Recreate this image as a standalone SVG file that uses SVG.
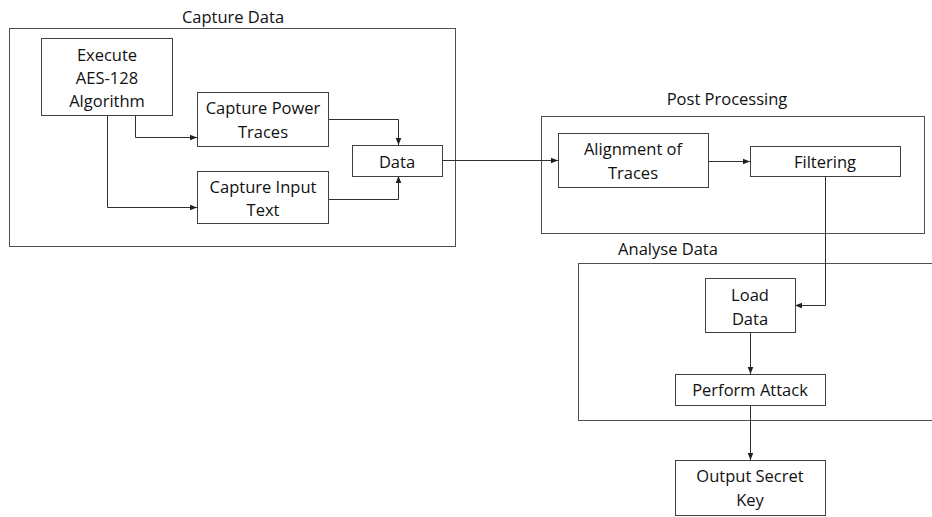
<svg xmlns="http://www.w3.org/2000/svg" width="932" height="517" viewBox="0 0 932 517">
<style>
.grp{fill:none;stroke:#505050;stroke-width:1}
.box{fill:#fff;stroke:#404040;stroke-width:1}
text{font-family:"Open Sans","Liberation Sans",sans-serif;font-size:16.5px;fill:#111;text-anchor:middle;dominant-baseline:central}
.con{fill:none;stroke:#303030;stroke-width:1}
</style>
<defs>
<marker id="ah" viewBox="0 0 10 10" refX="10" refY="5" markerWidth="7" markerHeight="7" orient="auto" markerUnits="userSpaceOnUse">
<path d="M0,1 L10,5 L0,9 z" fill="#202020"/>
</marker>
</defs>
<rect width="932" height="517" fill="#fff"/>
<g id="capture-data">
<rect class="grp" x="9.5" y="28.5" width="446" height="218"/>
<text x="233" y="16">Capture Data</text>
</g>
<g id="post-processing">
<rect class="grp" x="541.5" y="116.5" width="383" height="117"/>
<text x="727" y="98">Post Processing</text>
</g>
<g id="analyse-data">
<rect class="grp" x="578.5" y="263.5" width="360" height="157"/>
<text x="668" y="248">Analyse Data</text>
</g>
<g id="connectors">
<path class="con" d="M135.5,115 V137.5 H197" marker-end="url(#ah)"/>
<path class="con" d="M107.5,115 V207.5 H197" marker-end="url(#ah)"/>
<path class="con" d="M328,119.5 H398.5 V145" marker-end="url(#ah)"/>
<path class="con" d="M328,199.5 H398.5 V176" marker-end="url(#ah)"/>
<path class="con" d="M442,160.5 H558" marker-end="url(#ah)"/>
<path class="con" d="M708,161.5 H750" marker-end="url(#ah)"/>
<path class="con" d="M825.5,177 V305.5 H795" marker-end="url(#ah)"/>
<path class="con" d="M750.5,332 V374" marker-end="url(#ah)"/>
<path class="con" d="M750.5,405 V460" marker-end="url(#ah)"/>
</g>
<g id="execute">
<rect class="box" x="41.5" y="38.5" width="131" height="77"/>
<text x="107" y="54">Execute</text>
<text x="107" y="77">AES-128</text>
<text x="107" y="100">Algorithm</text>
</g>
<g id="capture-power">
<rect class="box" x="197.5" y="92.5" width="131" height="54"/>
<text x="263" y="107">Capture Power</text>
<text x="263" y="131">Traces</text>
</g>
<g id="capture-input">
<rect class="box" x="197.5" y="171.5" width="131" height="52"/>
<text x="263" y="186">Capture Input</text>
<text x="263" y="209">Text</text>
</g>
<g id="data">
<rect class="box" x="352.5" y="145.5" width="90" height="31"/>
<text x="397" y="161">Data</text>
</g>
<g id="alignment">
<rect class="box" x="558.5" y="133.5" width="150" height="54"/>
<text x="633" y="148">Alignment of</text>
<text x="633" y="172">Traces</text>
</g>
<g id="filtering">
<rect class="box" x="750.5" y="146.5" width="150" height="30"/>
<text x="825" y="161">Filtering</text>
</g>
<g id="load-data">
<rect class="box" x="705.5" y="278.5" width="90" height="54"/>
<text x="750" y="294">Load</text>
<text x="750" y="318">Data</text>
</g>
<g id="perform-attack">
<rect class="box" x="675.5" y="374.5" width="150" height="31"/>
<text x="750" y="389">Perform Attack</text>
</g>
<g id="output-key">
<rect class="box" x="675.5" y="460.5" width="150" height="55"/>
<text x="750" y="475">Output Secret</text>
<text x="750" y="499">Key</text>
</g>
</svg>
